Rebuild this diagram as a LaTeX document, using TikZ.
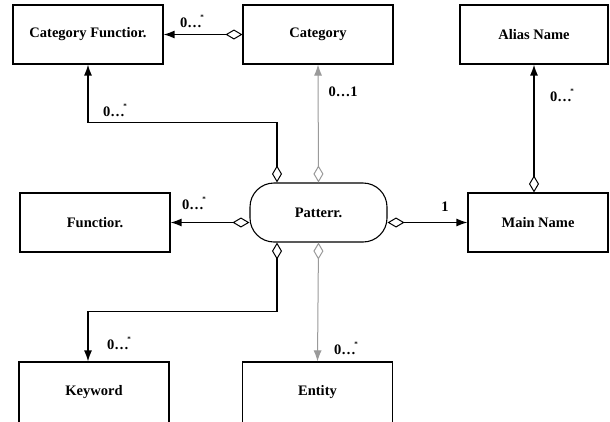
\documentclass[tikz,border=0pt]{standalone}
\usepackage{fontspec}
\setmainfont{Liberation Serif}
\usepackage{tikz}
\usetikzlibrary{arrows.meta}
\definecolor{gray400}{HTML}{9A9A9A}
\newcommand{\zeromany}{0\ldots\kern-1.5pt\raisebox{0.55em}{\scriptsize *}}
\tikzstyle{entitybox}=[rectangle, draw=black, line width=1.1pt, minimum width=150pt, minimum height=59pt, font=\fontsize{14.5}{17}\selectfont\bfseries]
\tikzstyle{hub}=[rectangle, rounded corners=24pt, draw=black, line width=1.1pt, minimum width=137pt, minimum height=59pt, font=\fontsize{14.5}{17}\selectfont\bfseries]
\tikzstyle{mult}=[font=\fontsize{14.5}{17}\selectfont\bfseries, inner sep=1pt]
\tikzstyle{link}=[line width=1.4pt, {Diamond[open, length=17pt, width=10pt, line width=1pt]}-{Latex[length=11pt, width=8pt]}]
\tikzstyle{greylink}=[link, draw=gray400, line width=1pt]

\begin{document}
\begin{tikzpicture}[x=1pt, y=-1pt]
	\clip (0,0) rectangle (610,421);
	\fill[white] (0,0) rectangle (610,421);
	\node[entitybox] (catfunc) at (88,34.5) {Category Functior.};
	\node[entitybox] (category) at (318,34.5) {Category};
	\node[entitybox, minimum width=148pt] (alias) at (534,34.5) {Alias Name};
	\node[entitybox] (func) at (95,222.5) {Functior.};
	\node[hub] (pattern) at (318.5,212.5) {Patterr.};
	\node[entitybox, minimum width=140pt] (mainname) at (538,222.5) {Main Name};
	\node[entitybox, minimum height=61pt] (keyword) at (94,392.5) {Keyword};
	\node[entitybox, minimum height=61pt] (entity) at (317.5,392.5) {Entity};
	\draw[link] (category.west) -- (catfunc.east);
	\draw[link] ([xshift=-41.5pt]pattern.north) -- ++(0,-60) -| (catfunc.south);
	\draw[greylink] (pattern.north) -- (category.south);
	\draw[link] (func.east -| pattern.west) -- (func.east);
	\draw[link] (mainname.west -| pattern.east) -- (mainname.west);
	\draw[link] (alias.south |- mainname.north) -- (alias.south);
	\draw[link] ([xshift=-41.5pt]pattern.south) -- ++(0,69) -| ([xshift=-6pt]keyword.north);
	\draw[greylink] (pattern.south) -- (entity.north);
	% multiplicities
	\node[mult] (m1) at (192,21) {\zeromany};
	\node[mult] (m2) at (115,110) {\zeromany};
	\node[mult] (m3) at (343,92) {0\ldots1};
	\node[mult] (m4) at (194,203) {\zeromany};
	\node[mult] (m5) at (445,207) {1};
	\node[mult] (m6) at (562,95) {\zeromany};
	\node[mult] (m7) at (119,343) {\zeromany};
	\node[mult] (m8) at (346,348) {\zeromany};
\end{tikzpicture}
\end{document}
